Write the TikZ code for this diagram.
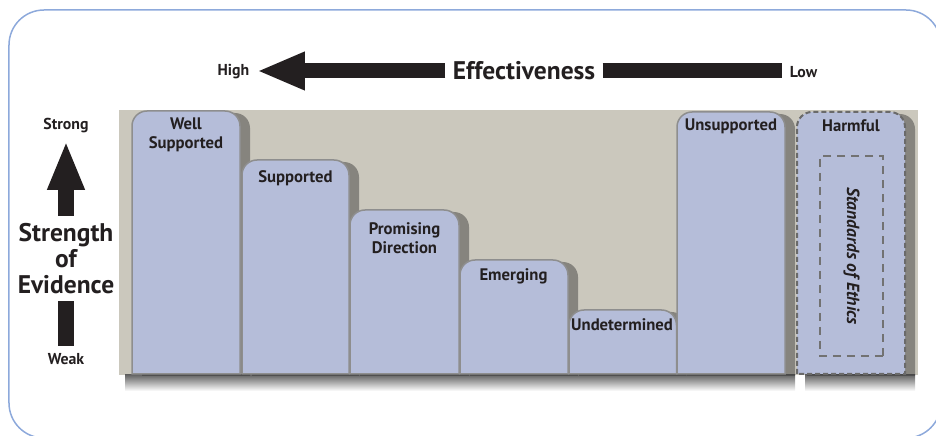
\documentclass[tikz,border=0pt]{standalone}
\usepackage{fontspec}
\setmainfont{PT Sans}
\usepackage{tikz}
\usetikzlibrary{arrows.meta}
\usetikzlibrary{shadows}
\definecolor{barblue}{HTML}{B5BDD9}
\definecolor{panelgray}{HTML}{CBC8BD}
\definecolor{edgegray}{HTML}{8E8E8E}
\definecolor{frameblue}{HTML}{8DA9DB}
\definecolor{inkblack}{HTML}{231F20}
\tikzset{ frame_line/.style = {draw=frameblue, line width=0.03cm, rounded corners=0.7cm} }
\tikzset{ ev_bar/.style = {fill=barblue, draw=edgegray, line width=0.03cm, drop shadow={shadow xshift=0.2cm, shadow yshift=-0.04cm, opacity=0.45, fill=black!80, draw=none}} }
\tikzset{ base_shadow/.style = {top color=black!60, bottom color=white} }
\tikzset{ bar_label/.style = {align=center, inner sep=0pt, text=inkblack, font=\bfseries\fontsize{9.5}{11}\selectfont} }
\tikzset{ axis_small/.style = {inner sep=0pt, outer sep=0.15cm, text=inkblack, font=\bfseries\fontsize{9}{11}\selectfont} }
\tikzset{ axis_big/.style = {align=center, inner sep=0pt, outer sep=0.15cm, text=inkblack, font=\bfseries\fontsize{14.5}{14.8}\selectfont} }
\tikzset{ thick_arrow/.style = {draw=inkblack} }

\begin{document}
\begin{tikzpicture}
\useasboundingbox (0,0) rectangle (18.72,-8.72);
\clip (0,0) rectangle (18.72,-8.72);
\draw[frame_line] (0.18,-0.2) rectangle (18.82,-8.76);
\fill[panelgray] (2.38,-2.2) rectangle (18.36,-7.5);
\shade[base_shadow] (2.50,-7.50) rectangle (15.90,-7.82);
\shade[base_shadow] (16.10,-7.50) rectangle (18.30,-7.82);
\draw[ev_bar] (2.64,-7.48) -- (2.64,-2.52) arc[start angle=180, end angle=90, radius=0.3] -- (4.50,-2.22) arc[start angle=90, end angle=0, radius=0.3] -- (4.80,-7.48) -- cycle;
\draw[ev_bar] (4.84,-7.48) -- (4.84,-3.50) arc[start angle=180, end angle=90, radius=0.3] -- (6.68,-3.20) arc[start angle=90, end angle=0, radius=0.3] -- (6.98,-7.48) -- cycle;
\draw[ev_bar] (7.00,-7.48) -- (7.00,-4.50) arc[start angle=180, end angle=90, radius=0.3] -- (8.88,-4.20) arc[start angle=90, end angle=0, radius=0.3] -- (9.18,-7.48) -- cycle;
\draw[ev_bar] (9.20,-7.48) -- (9.20,-5.50) arc[start angle=180, end angle=90, radius=0.3] -- (11.06,-5.20) arc[start angle=90, end angle=0, radius=0.3] -- (11.36,-7.48) -- cycle;
\draw[ev_bar] (11.38,-7.48) -- (11.38,-6.50) arc[start angle=180, end angle=90, radius=0.3] -- (13.23,-6.20) arc[start angle=90, end angle=0, radius=0.3] -- (13.53,-7.48) -- cycle;
\draw[ev_bar] (13.54,-7.48) -- (13.54,-2.54) arc[start angle=180, end angle=90, radius=0.3] -- (15.40,-2.24) arc[start angle=90, end angle=0, radius=0.3] -- (15.70,-7.48) -- cycle;
\draw[ev_bar, draw=edgegray!75!black, line width=0.04cm, dash pattern=on 0.1cm off 0.06cm] (15.94,-7.48) -- (15.94,-2.54) arc[start angle=180, end angle=90, radius=0.3] -- (17.80,-2.24) arc[start angle=90, end angle=0, radius=0.3] -- (18.10,-7.48) -- cycle;
\node[bar_label] (well) at (3.72,-2.70) {Well\\Supported};
\node[bar_label] (supported) at (5.91,-3.56) {Supported};
\node[bar_label] (promising) at (8.09,-4.76) {Promising\\Direction};
\node[bar_label] (emerging) at (10.27,-5.52) {Emerging};
\node[bar_label] (undetermined) at (12.44,-6.50) {Undetermined};
\node[bar_label] (unsupported) at (14.62,-2.52) {Unsupported};
\node[bar_label] (harmful) at (17.02,-2.52) {Harmful};
\node[draw=edgegray!80!black, line width=0.04cm, dash pattern=on 0.16cm off 0.12cm, rotate=-90, minimum width=4cm, minimum height=1.26cm, text=inkblack, font=\bfseries\itshape\fontsize{10}{11}\selectfont] (ethics) at (17.03,-5.12) {Standards of Ethics};
\node[axis_small] (high) at (4.67,-1.44) {High};
\node[axis_big] (eff) at (10.48,-1.42) {Effectiveness};
\node[axis_small] (low) at (16.07,-1.44) {Low};
\draw[thick_arrow, line width=0.3cm, -{Triangle[length=0.96cm, width=0.7cm]}] (eff.west) -- (eff.west -| high.east);
\draw[thick_arrow, line width=0.3cm] (eff.east) -- (eff.east -| low.west);
\node[axis_small] (strong) at (1.32,-2.52) {Strong};
\node[axis_big] (strength) at (1.32,-5.17) {Strength\\of\\Evidence};
\node[axis_small] (weak) at (1.32,-7.18) {Weak};
\draw[thick_arrow, line width=0.32cm, -{Triangle[length=0.98cm, width=0.68cm]}] (strength.north) -- (strength.north |- strong.south);
\draw[thick_arrow, line width=0.32cm] (strength.south) -- (strength.south |- weak.north);
\end{tikzpicture}
\end{document}
